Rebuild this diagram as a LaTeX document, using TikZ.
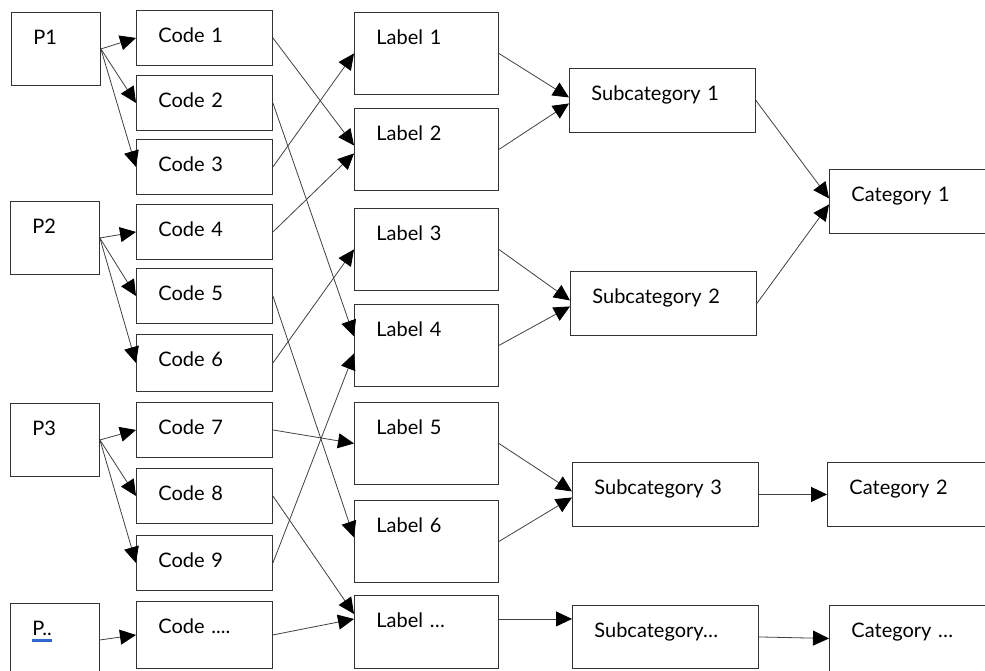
\documentclass[tikz,border=0pt]{standalone}
\usepackage{fontspec}
\setmainfont{Lato}
\usetikzlibrary{arrows.meta}
\definecolor{spellblue}{RGB}{51,102,204}
\newcommand{\spellmark}[1]{\setbox0\hbox{#1}\rlap{\color{spellblue}\rule[-7pt]{\wd0}{3pt}}\box0}
\tikzset{
  box/.style={draw=black!80, line width=0.9pt, anchor=north west, inner xsep=22pt, inner ysep=0pt, text height=32pt, align=left},
  pbox/.style={box, text width=45pt, text depth=41pt},
  codebox/.style={box, text width=92pt, text depth=23pt},
  labelbox/.style={box, text width=100pt, text depth=50pt},
  subbox/.style={box, text width=142pt, text depth=32pt},
  catbox/.style={box, text width=126pt, text depth=32pt},
  link/.style={draw=black!75, line width=0.8pt, -{Triangle[length=16pt,width=15pt,color=black]}},
}
\begin{document}
\begin{tikzpicture}[x=1pt, y=-1pt, font=\fontsize{20}{24}\selectfont]
        \useasboundingbox (0,0) rectangle (985,671);
        \clip (0,0) rectangle (985,671);

        % Participants
        \node[pbox] (p1) at (11,12) {P1};
        \node[pbox] (p2) at (10,201) {P2};
        \node[pbox] (p3) at (10,403) {P3};
        \node[pbox] (px) at (10,603) {\spellmark{P..}};

        % Codes
        \node[codebox] (code1) at (136,10) {Code 1};
        \node[codebox] (code2) at (136,75) {Code 2};
        \node[codebox] (code3) at (136,139) {Code 3};
        \node[codebox] (code4) at (136,204) {Code 4};
        \node[codebox] (code5) at (136,268) {Code 5};
        \node[codebox, text depth=25pt] (code6) at (136,334) {Code 6};
        \node[codebox] (code7) at (136,402) {Code 7};
        \node[codebox] (code8) at (136,468) {Code 8};
        \node[codebox] (code9) at (136,535) {Code 9};
        \node[codebox, text depth=35pt] (codex) at (136,601) {Code ....};

        % Labels
        \node[labelbox] (lab1) at (354,12) {Label 1};
        \node[labelbox] (lab2) at (354,108) {Label 2};
        \node[labelbox] (lab3) at (354,208) {Label 3};
        \node[labelbox] (lab4) at (354,304) {Label 4};
        \node[labelbox] (lab5) at (354,402) {Label 5};
        \node[labelbox] (lab6) at (354,500) {Label 6};
        \node[labelbox, text depth=41pt] (labx) at (354,595) {Label …};

        % Subcategories
        \node[subbox] (sub1) at (569,68) {Subcategory 1};
        \node[subbox] (sub2) at (570,271) {Subcategory 2};
        \node[subbox] (sub3) at (572,462) {Subcategory 3};
        \node[subbox, text depth=31pt] (subx) at (572,605) {Subcategory…};

        % Categories
        \node[catbox] (cat1) at (829,169) {Category 1};
        \node[catbox] (cat2) at (827,462) {Category 2};
        \node[catbox, text depth=34pt] (catx) at (829,605) {Category …};

        % Participants to codes
        \draw[link] (p1.east) -- (code1.west);
        \draw[link] (p1.east) -- (code2.west);
        \draw[link] (p1.east) -- (code3.west);
        \draw[link] (p2.east) -- (code4.west);
        \draw[link] (p2.east) -- (code5.west);
        \draw[link] (p2.east) -- (code6.west);
        \draw[link] (p3.east) -- (code7.west);
        \draw[link] (p3.east) -- (code8.west);
        \draw[link] (p3.east) -- (code9.west);
        \draw[link] (px.east) -- (codex.west);

        % Codes to labels
        \draw[link] (code1.east) -- ([yshift=4pt]lab2.west);
        \draw[link] (code2.east) -- ([yshift=9pt]lab4.west);
        \draw[link] (code3.east) -- (lab1.west);
        \draw[link] (code4.east) -- ([yshift=-4pt]lab2.west);
        \draw[link] (code5.east) -- ([yshift=4pt]lab6.west);
        \draw[link] (code6.east) -- (lab3.west);
        \draw[link] (code7.east) -- (lab5.west);
        \draw[link] (code8.east) -- ([yshift=18pt]labx.west);
        \draw[link] (code9.east) -- ([yshift=-8pt]lab4.west);
        \draw[link] (codex.east) -- ([yshift=13pt]labx.west);

        % Labels to subcategories
        \draw[link] (lab1.east) -- ([yshift=3pt]sub1.west);
        \draw[link] (lab2.east) -- ([yshift=-3pt]sub1.west);
        \draw[link] (lab3.east) -- ([yshift=3pt]sub2.west);
        \draw[link] (lab4.east) -- ([yshift=-3pt]sub2.west);
        \draw[link] (lab5.east) -- ([yshift=3pt]sub3.west);
        \draw[link] (lab6.east) -- ([yshift=-3pt]sub3.west);
        \draw[link] ([yshift=13pt]labx.east) -- ([yshift=13pt]labx.east -| subx.west);

        % Subcategories to categories
        \draw[link] (sub1.east) -- ([yshift=3pt]cat1.west);
        \draw[link] (sub2.east) -- ([yshift=-3pt]cat1.west);
        \draw[link] (sub3.east) -- (cat2.west);
        \draw[link] (subx.east) -- (catx.west);
    \end{tikzpicture}
\end{document}
